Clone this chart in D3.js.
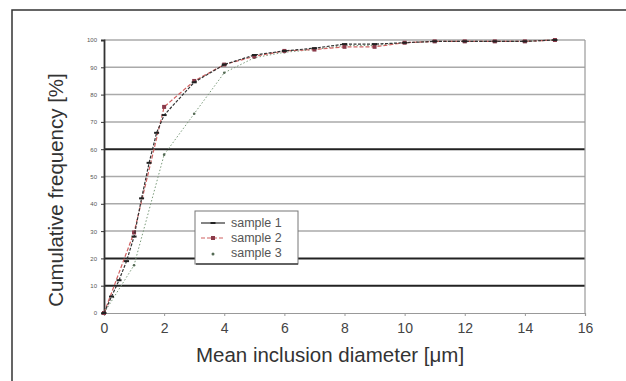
<!DOCTYPE html>
<html>
<head>
<meta charset="utf-8">
<script src="https://cdn.jsdelivr.net/npm/d3@7"></script>
<style>
  body { margin: 0; background: #fff; }
  svg { display: block; font-family: "Liberation Sans", Arial, sans-serif; }
</style>
</head>
<body>
<svg id="chart" width="626" height="381"></svg>
<script>
// values
const xTicks = [0, 2, 4, 6, 8, 10, 12, 14, 16];
const yTicks = [0, 10, 20, 30, 40, 50, 60, 70, 80, 90, 100];
const darkGrid = [10, 20, 60]; // these gridlines look heavier in the scan

const x1 = [0, 0.25, 0.5, 0.75, 1, 1.25, 1.5, 1.75, 2, 3, 4, 5, 6, 7, 8, 9, 10, 11, 12, 13, 14, 15];
const sample1 = [0, 6, 12, 19, 28, 42, 55, 66, 72.5, 84.5, 91, 94.5, 96, 97, 98.5, 98.5, 99, 99.5, 99.5, 99.5, 99.5, 100];

const x2 = [0, 1, 2, 3, 4, 5, 6, 7, 8, 9, 10, 11, 12, 13, 14, 15];
const sample2 = [0, 29.5, 75.5, 85, 91, 94, 96, 96.5, 97.5, 97.5, 99, 99.5, 99.5, 99.5, 99.5, 100];

const x3 = [0, 1, 2, 3, 4, 5, 6, 7, 8, 9, 10, 11, 12, 13, 14, 15];
const sample3 = [0, 17.5, 58, 73, 88, 93.5, 95.5, 96.5, 98, 98, 99, 99.5, 99.5, 99.5, 99.5, 100];

const seriesNames = ["sample 1", "sample 2", "sample 3"];

const svg = d3.select("#chart");

// outer frame (only left and top edges fall inside the picture)
svg.append("rect")
    .attr("x", 12).attr("y", 10)
    .attr("width", 630).attr("height", 390)
    .attr("fill", "none").attr("stroke", "#333").attr("stroke-width", 1.5);

const x = d3.scaleLinear().domain([0, 16]).range([104, 585]);
const y = d3.scaleLinear().domain([0, 100]).range([313, 40]);

// gridlines
svg.append("g").selectAll("line")
    .data(yTicks.filter(d => d > 0))
    .enter().append("line")
    .attr("x1", x(0)).attr("x2", x(16))
    .attr("y1", d => y(d)).attr("y2", d => y(d))
    .attr("stroke", d => darkGrid.includes(d) ? "#222" : "#aaa")
    .attr("stroke-width", d => darkGrid.includes(d) ? 2 : 1.5);

// right border of plot area
svg.append("line")
    .attr("x1", x(16)).attr("x2", x(16))
    .attr("y1", y(100)).attr("y2", y(0))
    .attr("stroke", "#999").attr("stroke-width", 1.2);

// axes
const xAxis = svg.append("g")
    .attr("transform", `translate(0,${y(0)})`)
    .call(d3.axisBottom(x).tickValues(xTicks).tickSize(3).tickPadding(7));
xAxis.select(".domain").attr("stroke", "#999").attr("stroke-width", 1.2);
xAxis.selectAll(".tick line").attr("stroke", "#999");
xAxis.selectAll("text").attr("font-size", 14).attr("fill", "#444");

const yAxis = svg.append("g")
    .attr("transform", `translate(${x(0)},0)`)
    .call(d3.axisLeft(y).tickValues(yTicks).tickSize(3).tickPadding(4));
yAxis.select(".domain").attr("stroke", "#333").attr("stroke-width", 1.8);
yAxis.selectAll(".tick line").attr("stroke", "#333");
yAxis.selectAll("text").attr("font-size", 6).attr("fill", "#555");

// axis titles
svg.append("text")
    .attr("x", 330).attr("y", 362)
    .attr("text-anchor", "middle")
    .attr("font-size", 20.5).attr("fill", "#333")
    .text("Mean inclusion diameter [μm]");

svg.append("text")
    .attr("transform", "translate(63,190) rotate(-90)")
    .attr("text-anchor", "middle")
    .attr("font-size", 20.5).attr("fill", "#333")
    .text("Cumulative frequency [%]");

// series
const line = d3.line().x(d => x(d[0])).y(d => y(d[1]));
const d1 = x1.map((v, i) => [v, sample1[i]]);
const d2 = x2.map((v, i) => [v, sample2[i]]);
const d3s = x3.map((v, i) => [v, sample3[i]]);

svg.append("path").datum(d3s)
    .attr("d", line).attr("fill", "none")
    .attr("stroke", "#7a9a7a").attr("stroke-width", 1)
    .attr("stroke-dasharray", "1.5,2");
svg.append("g").selectAll("circle").data(d3s).enter().append("circle")
    .attr("cx", d => x(d[0])).attr("cy", d => y(d[1]))
    .attr("r", 1.3).attr("fill", "#556b55");

svg.append("path").datum(d2)
    .attr("d", line).attr("fill", "none")
    .attr("stroke", "#d06060").attr("stroke-width", 1.2)
    .attr("stroke-dasharray", "4,2");
svg.append("g").selectAll("rect").data(d2).enter().append("rect")
    .attr("x", d => x(d[0]) - 2).attr("y", d => y(d[1]) - 2)
    .attr("width", 4).attr("height", 4)
    .attr("fill", "#8a3a4a");

svg.append("path").datum(d1)
    .attr("d", line).attr("fill", "none")
    .attr("stroke", "#333").attr("stroke-width", 1.2)
    .attr("stroke-dasharray", "3,1.5");
svg.append("g").selectAll("line").data(d1).enter().append("line")
    .attr("x1", d => x(d[0]) - 2.5).attr("x2", d => x(d[0]) + 2.5)
    .attr("y1", d => y(d[1])).attr("y2", d => y(d[1]))
    .attr("stroke", "#222").attr("stroke-width", 2);

// legend
const lg = svg.append("g").attr("transform", "translate(195,211)");
lg.append("rect")
    .attr("width", 103).attr("height", 53)
    .attr("fill", "#fff").attr("stroke", "#777").attr("stroke-width", 1);
lg.append("line").attr("x1", 1).attr("x2", 103).attr("y1", 53).attr("y2", 53)
    .attr("stroke", "#444").attr("stroke-width", 1.5);

const rows = lg.selectAll("g.row").data(seriesNames).enter().append("g")
    .attr("transform", (d, i) => `translate(0,${12 + i * 15})`);
rows.append("line")
    .attr("x1", 6).attr("x2", 30).attr("y1", 0).attr("y2", 0)
    .attr("stroke", (d, i) => ["#333", "#d06060", "none"][i])
    .attr("stroke-width", 1.2)
    .attr("stroke-dasharray", (d, i) => i === 1 ? "4,2" : null);
rows.filter((d, i) => i === 0).append("line")
    .attr("x1", 15.5).attr("x2", 20.5).attr("y1", 0).attr("y2", 0)
    .attr("stroke", "#222").attr("stroke-width", 2);
rows.filter((d, i) => i === 1).append("rect")
    .attr("x", 16).attr("y", -2).attr("width", 4).attr("height", 4)
    .attr("fill", "#8a3a4a");
rows.filter((d, i) => i === 2).append("circle")
    .attr("cx", 18).attr("cy", 1).attr("r", 1.5).attr("fill", "#556b55");
rows.append("text")
    .attr("x", 36).attr("y", 4)
    .attr("font-size", 12.5).attr("fill", "#555")
    .text(d => d);
</script>
</body>
</html>
